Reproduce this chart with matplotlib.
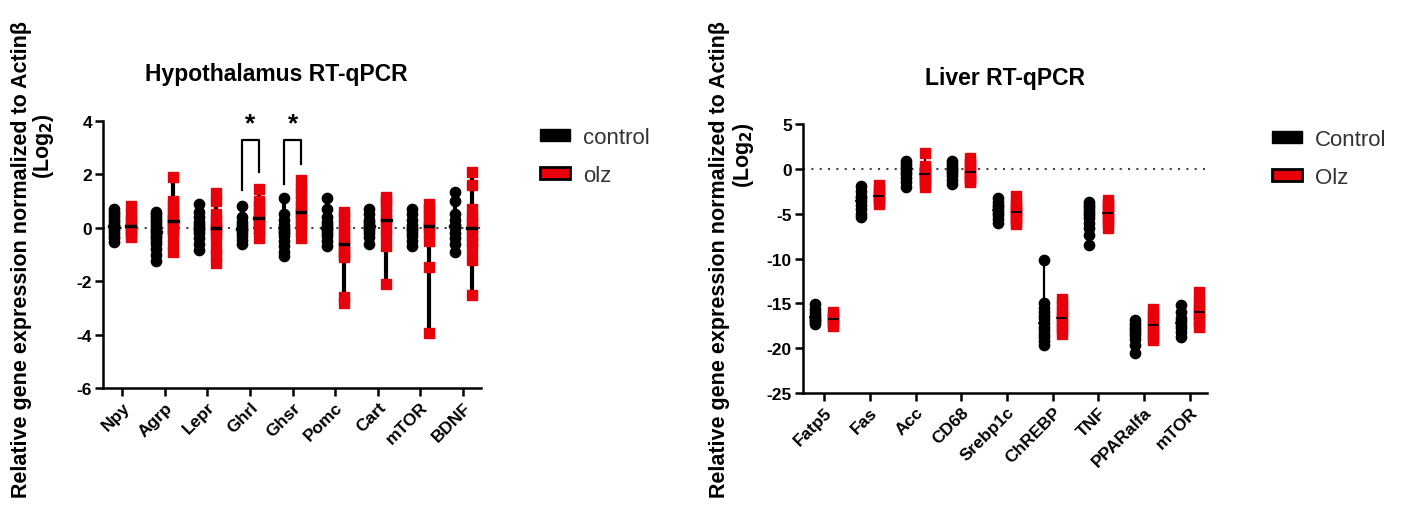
from __future__ import annotations

import matplotlib

matplotlib.use("Agg")
import matplotlib.pyplot as plt
import numpy as np
from matplotlib.patches import Patch

plt.rcParams["font.family"] = ["Liberation Sans", "DejaVu Sans"]
plt.rcParams["axes.unicode_minus"] = False

HYPO_GENES = ["Npy", "Agrp", "Lepr", "Ghrl", "Ghsr", "Pomc", "Cart", "mTOR", "BDNF"]
HYPO_CONTROL = [
    [0.7, 0.6, 0.5, 0.4, 0.3, 0.2, 0.1, 0.05, 0.0, -0.1, -0.2, -0.3, -0.4, -0.55],
    [0.6, 0.5, 0.4, 0.3, 0.2, 0.1, 0.0, -0.1, -0.2, -0.3, -0.4, -0.5, -0.6, -0.8, -1.0, -1.25],
    [0.9, 0.6, 0.4, 0.2, 0.1, 0.0, -0.1, -0.2, -0.4, -0.6, -0.85],
    [0.8, 0.4, 0.2, 0.1, 0.0, -0.1, -0.2, -0.3, -0.45, -0.6],
    [1.1, 0.5, 0.3, 0.1, 0.0, -0.1, -0.2, -0.3, -0.5, -0.7, -0.9, -1.05],
    [1.1, 0.7, 0.4, 0.2, 0.1, 0.0, -0.1, -0.2, -0.3, -0.5, -0.7],
    [0.7, 0.5, 0.3, 0.2, 0.1, 0.0, -0.1, -0.2, -0.35, -0.6],
    [0.7, 0.5, 0.3, 0.1, 0.0, -0.1, -0.2, -0.3, -0.5, -0.7],
    [1.35, 1.0, 0.5, 0.3, 0.1, 0.0, -0.2, -0.4, -0.6, -0.9],
]
HYPO_OLZ = [
    [0.8, 0.5, 0.3, 0.15, 0.0, -0.1, -0.2, -0.35],
    [1.9, 1.0, 0.8, 0.6, 0.4, 0.3, 0.2, 0.0, -0.1, -0.2, -0.6, -0.9],
    [1.3, 1.0, 0.5, 0.3, 0.1, 0.0, -0.2, -0.4, -0.8, -1.0, -1.3],
    [1.45, 1.0, 0.8, 0.6, 0.4, 0.3, 0.2, 0.0, -0.1, -0.4],
    [1.8, 1.5, 1.3, 1.0, 0.8, 0.6, 0.5, 0.3, 0.1, -0.1, -0.4],
    [0.6, 0.4, 0.1, -0.1, -0.3, -0.5, -0.7, -0.9, -1.0, -1.1, -2.6, -2.8],
    [1.15, 1.0, 0.8, 0.5, 0.3, 0.0, -0.3, -0.7, -2.1],
    [0.9, 0.7, 0.5, 0.3, 0.1, 0.0, -0.2, -0.5, -1.45, -3.95],
    [2.1, 1.6, 0.7, 0.4, 0.2, 0.0, -0.3, -0.5, -0.8, -1.2, -2.5],
]
# significance brackets: gene, (left leg end, right leg end), bracket top
HYPO_SIGNIFICANT = ["Ghrl", "Ghsr"]
HYPO_BRACKET_LEGS = [(1.43, 2.1), (1.65, 2.4)]
HYPO_BRACKET_TOP = 3.3

LIVER_GENES = ["Fatp5", "Fas", "Acc", "CD68", "Srebp1c", "ChREBP", "TNF", "PPARalfa", "mTOR"]
LIVER_CONTROL = [
    [-15.1, -15.6, -16.0, -16.3, -16.5, -16.7, -16.9, -17.1, -17.3],
    [-1.9, -2.5, -3.0, -3.3, -3.6, -4.0, -4.5, -5.0, -5.4],
    [0.9, 0.5, 0.2, 0.0, -0.3, -0.6, -1.0, -1.5, -2.0],
    [0.9, 0.5, 0.2, 0.0, -0.2, -0.5, -0.8, -1.2, -1.7],
    [-3.3, -3.7, -4.0, -4.3, -4.6, -4.9, -5.2, -5.6, -6.0],
    [-10.2, -15.0, -15.5, -16.0, -16.4, -16.8, -17.2, -17.6, -18.0, -18.4, -18.8, -19.2, -19.6],
    [-3.7, -4.0, -4.3, -4.6, -4.9, -5.2, -5.5, -6.0, -6.6, -7.4, -8.5],
    [-16.9, -17.3, -17.6, -17.9, -18.2, -18.5, -19.0, -19.6, -20.5],
    [-15.2, -16.0, -16.6, -17.0, -17.4, -17.8, -18.2, -18.7],
]
LIVER_OLZ = [
    [-16.0, -16.3, -16.6, -16.9, -17.2, -17.5],
    [-1.8, -2.2, -2.6, -3.0, -3.3, -3.6, -3.9],
    [1.8, 0.3, 0.0, -0.3, -0.6, -0.9, -1.2, -1.6, -2.0],
    [1.2, 0.8, 0.4, 0.0, -0.3, -0.7, -1.0, -1.3, -1.5],
    [-3.0, -3.8, -4.2, -4.5, -4.8, -5.1, -5.5, -5.9, -6.2],
    [-14.5, -15.2, -15.8, -16.4, -16.9, -17.4, -17.9, -18.4],
    [-3.5, -3.9, -4.3, -4.7, -5.1, -5.5, -6.0, -6.6],
    [-15.6, -16.2, -16.7, -17.2, -17.7, -18.2, -18.7, -19.1],
    [-13.7, -14.6, -15.2, -15.7, -16.2, -16.7, -17.1, -17.6],
]

RED = "#E8000B"
OFFSET = 0.2


def draw_group(ax, x, values, color, marker, err_width):
    values = np.asarray(values, dtype=float)
    ax.plot([x, x], [values.min(), values.max()], color="black", lw=err_width,
            solid_capstyle="butt", zorder=2)
    ax.plot(np.full(len(values), x), values, linestyle="none", marker=marker,
            markersize=7.4, markerfacecolor=color, markeredgecolor=color, zorder=3)
    med = np.median(values)
    ax.plot([x - 0.1, x + 0.1], [med, med], color="black", lw=err_width * 0.8, zorder=4)


def dot_panel(ax, genes, control, olz, err_width):
    for i, (c, o) in enumerate(zip(control, olz)):
        draw_group(ax, i - OFFSET, c, "black", "o", err_width)
        draw_group(ax, i + OFFSET, o, RED, "s", err_width)
    ax.axhline(0, color="#444444", linestyle=(0, (1, 3)), lw=1.5, zorder=1)
    ax.set_xticks(range(len(genes)))
    ax.set_xticklabels(genes, rotation=45, ha="right", rotation_mode="anchor",
                       fontweight="bold", fontsize=12.5)
    for label in ax.get_yticklabels():
        label.set_fontweight("bold")
        label.set_fontsize(12.5)
    ax.spines["top"].set_visible(False)
    ax.spines["right"].set_visible(False)
    for side in ("left", "bottom"):
        ax.spines[side].set_linewidth(1.8)
    ax.tick_params(width=1.8, length=6, pad=2)


def main() -> None:
    fig = plt.figure(figsize=(14.06, 5.06), dpi=100)
    ax1 = fig.add_axes([0.0733, 0.2312, 0.2688, 0.5277])
    ax2 = fig.add_axes([0.5711, 0.2213, 0.2873, 0.5316])

    ax1.set_ylim(-6, 4)
    ax1.set_yticks([-6, -4, -2, 0, 2, 4])
    ax1.set_xlim(-0.45, 8.42)
    dot_panel(ax1, HYPO_GENES, HYPO_CONTROL, HYPO_OLZ, 3.0)

    for gene, (left_leg, right_leg) in zip(HYPO_SIGNIFICANT, HYPO_BRACKET_LEGS):
        i = HYPO_GENES.index(gene)
        ax1.plot([i - OFFSET, i - OFFSET, i + OFFSET, i + OFFSET],
                 [left_leg, HYPO_BRACKET_TOP, HYPO_BRACKET_TOP, right_leg],
                 color="black", lw=1.6, clip_on=False)
        ax1.text(i, 3.45, "*", ha="center", va="bottom", fontsize=19,
                 fontweight="bold", clip_on=False)

    ax2.set_ylim(-25, 5)
    ax2.set_yticks([-25, -20, -15, -10, -5, 0, 5])
    ax2.set_xlim(-0.46, 8.37)
    dot_panel(ax2, LIVER_GENES, LIVER_CONTROL, LIVER_OLZ, 1.6)

    fig.text(276 / 1406, 1 - 75 / 506, "Hypothalamus RT-qPCR", ha="center",
             va="center", fontsize=16.5, fontweight="bold")
    fig.text(1005 / 1406, 1 - 79 / 506, "Liver RT-qPCR", ha="center",
             va="center", fontsize=16.5, fontweight="bold")

    ylabel = "Relative gene expression normalized to Actin\u03b2"
    for x_main, x_log, y_log in [(22, 43, 146), (719, 743, 155)]:
        fig.text(x_main / 1406, 1 - 260 / 506, ylabel, rotation=90, ha="center",
                 va="center", fontsize=15.5, fontweight="bold")
        fig.text(x_log / 1406, 1 - y_log / 506, "(Log$_\\mathbf{2}$)", rotation=90,
                 ha="center", va="center", fontsize=15.5, fontweight="bold")

    for labels, anchor in [(["control", "olz"], (540 / 1406, 1 - 128 / 506)),
                           (["Control", "Olz"], (1272 / 1406, 1 - 130 / 506))]:
        handles = [
            Patch(facecolor="black", edgecolor="black"),
            Patch(facecolor=RED, edgecolor="black", linewidth=2),
        ]
        fig.legend(handles, labels, loc="upper left", bbox_to_anchor=anchor,
                   frameon=False, fontsize=16, handlelength=1.35, handleheight=0.45,
                   labelspacing=0.75, handletextpad=0.6, borderaxespad=0,
                   borderpad=0, labelcolor="#333333")

    fig.savefig("out.png", dpi=100)


if __name__ == "__main__":
    main()
